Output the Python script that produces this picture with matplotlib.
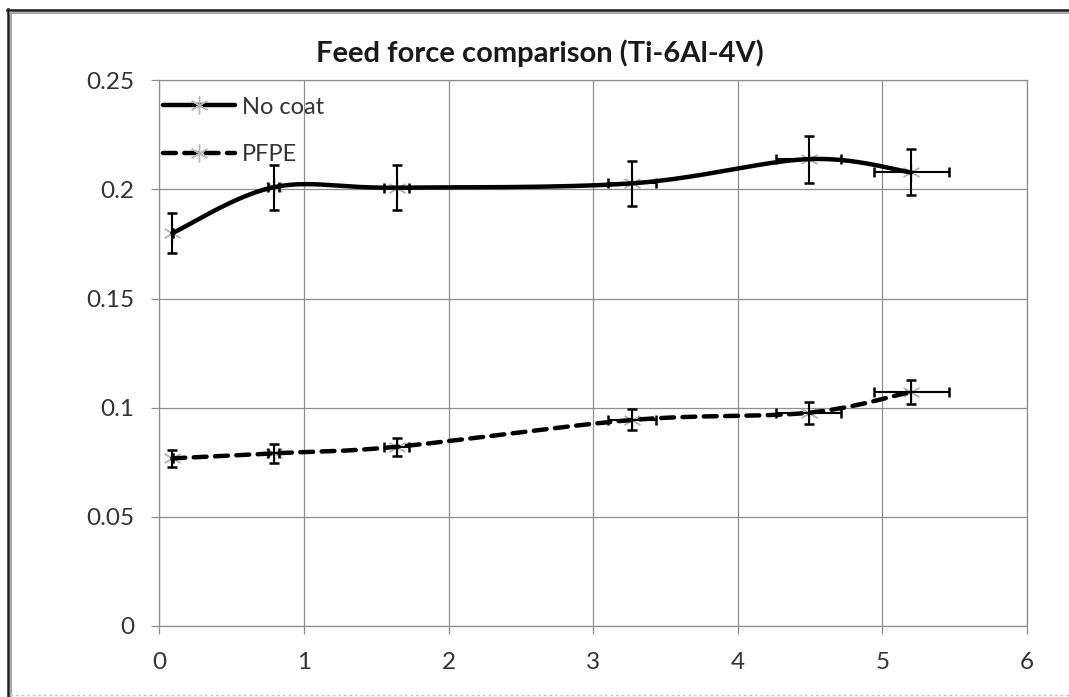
import numpy as np
import matplotlib
matplotlib.use("Agg")
import matplotlib.pyplot as plt
from matplotlib.lines import Line2D

# Feed force measurements for Ti-6Al-4V
x_vals = [0.09, 0.79, 1.64, 3.27, 4.49, 5.20]
x_err = [0.005, 0.04, 0.085, 0.165, 0.225, 0.26]

no_coat = [0.180, 0.201, 0.2008, 0.2028, 0.2139, 0.2078]
no_coat_err = [0.009, 0.0103, 0.0103, 0.0103, 0.0108, 0.0105]

pfpe = [0.0768, 0.0791, 0.0821, 0.0944, 0.0977, 0.1073]
pfpe_err = [0.0038, 0.0043, 0.0042, 0.0048, 0.0050, 0.0054]

series_labels = ["No coat", "PFPE"]
title_text = "Feed force comparison (Ti-6Al-4V)"
x_ticks = [0, 1, 2, 3, 4, 5, 6]
y_ticks = [0, 0.05, 0.1, 0.15, 0.2, 0.25]
y_tick_labels = ["0", "0.05", "0.1", "0.15", "0.2", "0.25"]

FONT = ["Lato", "DejaVu Sans"]
plt.rcParams["font.family"] = FONT


def smooth_curve(xs, ys, n=40):
    """Cubic Bezier smoothing through every point (Catmull-Rom style)."""
    p = np.column_stack([xs, ys]).astype(float)
    k = len(p)
    out = []
    t = np.linspace(0, 1, n)[:, None]
    for i in range(k - 1):
        p0 = p[i - 1] if i > 0 else p[i]
        p1, p2 = p[i], p[i + 1]
        p3 = p[i + 2] if i + 2 < k else p[i + 1]
        c1 = p1 + (p2 - p0) / 6.0
        c2 = p2 - (p3 - p1) / 6.0
        seg = ((1 - t) ** 3) * p1 + 3 * ((1 - t) ** 2) * t * c1 \
            + 3 * (1 - t) * t ** 2 * c2 + t ** 3 * p2
        out.append(seg if i == 0 else seg[1:])
    pts = np.vstack(out)
    return pts[:, 0], pts[:, 1]


W, H = 1069, 697
fig = plt.figure(figsize=(W / 100, H / 100), dpi=100)
fig.patch.set_facecolor("white")

left, right = 159.4 / W, 1027 / W
top, bottom = 1 - 80.3 / H, 1 - 626 / H
ax = fig.add_axes([left, bottom, right - left, top - bottom])

grid_c = "#8e8e8e"
ax.set_xlim(0, 6)
ax.set_ylim(0, 0.25)
ax.set_xticks(x_ticks)
ax.set_yticks(y_ticks)
ax.set_yticklabels(y_tick_labels)
ax.grid(True, color=grid_c, lw=0.9, zorder=0)
ax.set_axisbelow(True)
for s in ax.spines.values():
    s.set_color(grid_c)
    s.set_linewidth(0.9)
ax.tick_params(axis="both", direction="out", length=6, width=0.9,
               color=grid_c, labelsize=17.5, labelcolor="#333333")
ax.tick_params(axis="y", pad=12)
ax.tick_params(axis="x", pad=13)

LW = 3.2
DASH = (2.9, 1.9)
marker_style = dict(marker=(6, 2, 0), ms=13, mew=1.0, mec="#b5b5b5",
                    ls="none", zorder=2)

# No coat: solid smoothed line
sx, sy = smooth_curve(x_vals, no_coat)
ax.plot(sx, sy, color="black", lw=LW, solid_capstyle="round", zorder=3)
ax.plot(x_vals, no_coat, **marker_style)
ax.errorbar(x_vals, no_coat, yerr=no_coat_err, xerr=x_err, fmt="none",
            ecolor="black", elinewidth=1.5, capsize=3.8, capthick=1.8,
            zorder=4)

# PFPE: dashed smoothed line
px, py = smooth_curve(x_vals, pfpe)
ax.plot(px, py, color="black", lw=LW, dashes=DASH,
        dash_capstyle="round", zorder=3)
ax.plot(x_vals, pfpe, **marker_style)
ax.errorbar(x_vals, pfpe, yerr=pfpe_err, xerr=x_err, fmt="none",
            ecolor="black", elinewidth=1.5, capsize=3.8, capthick=1.8,
            zorder=4)

handles = [
    Line2D([], [], color="black", lw=LW, marker=(6, 2, 0), ms=13,
           mew=1.0, mec="#b5b5b5", solid_capstyle="round"),
    Line2D([], [], color="black", lw=LW, dashes=DASH,
           dash_capstyle="round", marker=(6, 2, 0), ms=13, mew=1.0,
           mec="#b5b5b5"),
]
leg = ax.legend(handles, series_labels, loc="upper left", frameon=False,
                fontsize=17, handlelength=3.05, handletextpad=0.3,
                labelspacing=1.12, borderaxespad=0.0, borderpad=0.0,
                bbox_to_anchor=(0.004, 0.97))
for t in leg.get_texts():
    t.set_color("#333333")

fig.text(540 / W, 1 - 53 / H, title_text, ha="center", va="center",
         fontsize=21, fontweight="bold", color="#1a1a1a")

# Chart frame: dark outer edge with a lighter inner edge
fx = lambda px_: px_ / W
fy = lambda py_: 1 - py_ / H
fig.add_artist(Line2D([fx(7.5), fx(7.5)], [fy(9), fy(697)], color="#1c1c1c",
                      lw=1.8, transform=fig.transFigure))
fig.add_artist(Line2D([fx(7), fx(1069)], [fy(9.5), fy(9.5)], color="#1c1c1c",
                      lw=1.8, transform=fig.transFigure))
fig.add_artist(Line2D([fx(10.5), fx(10.5)], [fy(12), fy(697)],
                      color="#9a9a9a", lw=1.2, transform=fig.transFigure))
fig.add_artist(Line2D([fx(10), fx(1069)], [fy(12.5), fy(12.5)],
                      color="#9a9a9a", lw=1.2, transform=fig.transFigure))
fig.add_artist(Line2D([fx(10), fx(1069)], [fy(695), fy(695)],
                      color="#c8c8c8", lw=1.0, ls=(0, (2, 2)),
                      transform=fig.transFigure))

fig.savefig("out.png", dpi=100, facecolor="white")
